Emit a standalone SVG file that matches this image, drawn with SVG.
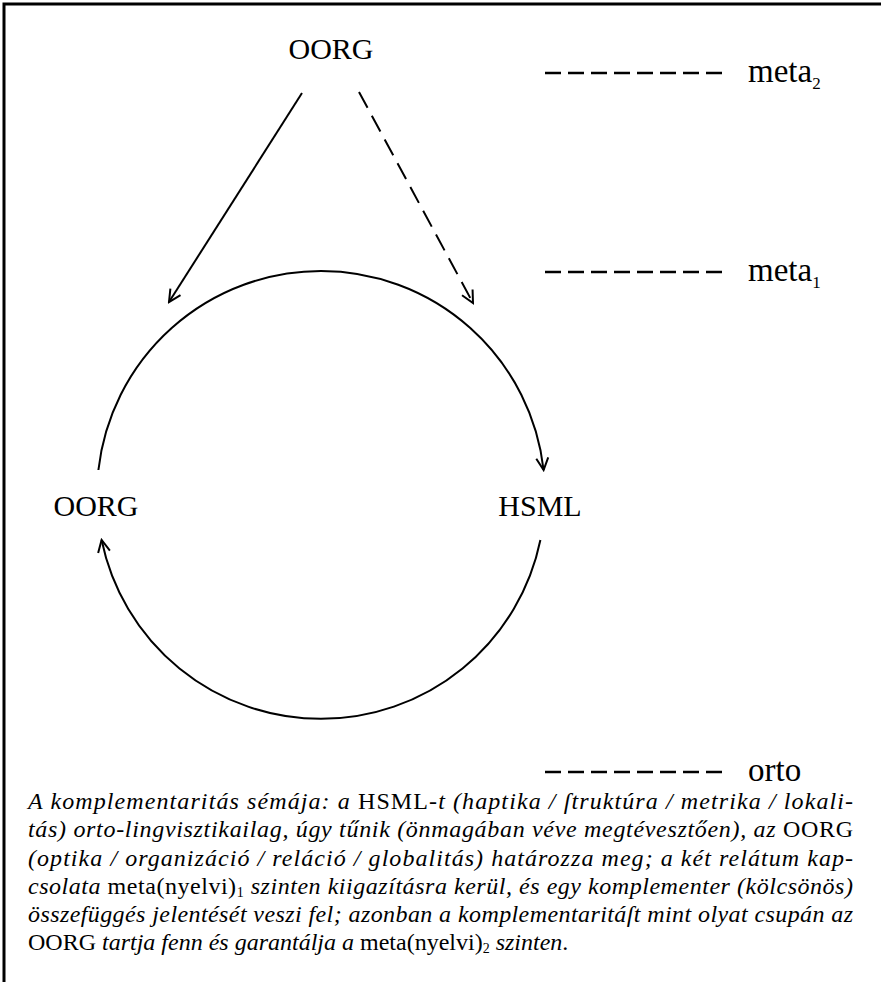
<svg xmlns="http://www.w3.org/2000/svg" width="881" height="982" viewBox="0 0 881 982">
<style>
.lbl{font-family:"Liberation Serif","Times New Roman",serif;font-size:30px;fill:#000}
.leg{font-family:"Liberation Serif","Times New Roman",serif;font-size:33px;fill:#000}
.cap{font-family:"Liberation Serif","Times New Roman",serif;font-size:24px;font-style:italic;fill:#000}
.rm{font-style:normal}
.sub{font-size:17px;font-style:normal}
.csub{font-size:14px;font-style:normal}
.ln{fill:none;stroke:#000;stroke-width:2}
.dash{fill:none;stroke:#000;stroke-width:2.5;stroke-dasharray:16 7}
</style>
<defs>
<marker id="ah" viewBox="-14 -8 16 16" markerWidth="16" markerHeight="16" refX="0" refY="0" orient="auto" markerUnits="userSpaceOnUse">
<path d="M-12,-6 L0,0 L-12,6" fill="none" stroke="#000" stroke-width="2"/>
</marker>
</defs>
<rect width="881" height="982" fill="#fff"/>
<path d="M4,982 V4 H881" fill="none" stroke="#000" stroke-width="3"/>
<g id="node-oorg-top"><text class="lbl" x="331" y="59" text-anchor="middle">OORG</text></g>
<g id="node-oorg-left"><text class="lbl" x="96" y="516" text-anchor="middle">OORG</text></g>
<g id="node-hsml"><text class="lbl" x="540" y="516" text-anchor="middle">HSML</text></g>
<g id="legend">
<line class="dash" x1="545" y1="73" x2="722" y2="73"/>
<text class="leg" x="748" y="82">meta<tspan class="sub" dy="7">2</tspan></text>
<line class="dash" x1="545" y1="272" x2="722" y2="272"/>
<text class="leg" x="748" y="281">meta<tspan class="sub" dy="7">1</tspan></text>
<line class="dash" x1="545" y1="772" x2="722" y2="772"/>
<text class="leg" x="748" y="781">orto</text>
</g>
<g id="connectors">
<line class="ln" x1="302" y1="93" x2="169" y2="302" marker-end="url(#ah)"/>
<line class="ln" x1="359" y1="92" x2="473" y2="303" stroke-dasharray="18 9" marker-end="url(#ah)"/>
<path class="ln" d="M98.4,470 A224,224 0 0 1 543.6,470" marker-end="url(#ah)"/>
<path class="ln" d="M540.4,540 A224,224 0 0 1 101.6,540" marker-end="url(#ah)"/>
</g>
<g id="caption">
<text class="cap" x="28" y="809" textLength="825" lengthAdjust="spacing">A komplementaritás sémája: a <tspan class="rm">HSML</tspan>-t (haptika / ſtruktúra / metrika / lokali-</text>
<text class="cap" x="28" y="837" textLength="825" lengthAdjust="spacing">tás) orto-lingvisztikailag, úgy tűnik (önmagában véve megtévesztően), az <tspan class="rm">OORG</tspan></text>
<text class="cap" x="28" y="865.5" textLength="825" lengthAdjust="spacing">(optika / organizáció / reláció / globalitás) határozza meg; a két relátum kap-</text>
<text class="cap" x="28" y="894" textLength="825" lengthAdjust="spacing">csolata <tspan class="rm">meta(nyelvi)</tspan><tspan class="csub" dy="3">1</tspan><tspan dy="-3"> szinten kiigazításra kerül, és egy komplementer (kölcsönös)</tspan></text>
<text class="cap" x="28" y="922" textLength="825" lengthAdjust="spacing">összefüggés jelentését veszi fel; azonban a komplementaritáſt mint olyat csupán az</text>
<text class="cap" x="28" y="950"><tspan class="rm">OORG</tspan> tartja fenn és garantálja a <tspan class="rm">meta(nyelvi)</tspan><tspan class="csub" dy="3">2</tspan><tspan dy="-3"> szinten</tspan><tspan class="rm">.</tspan></text>
</g>
</svg>
